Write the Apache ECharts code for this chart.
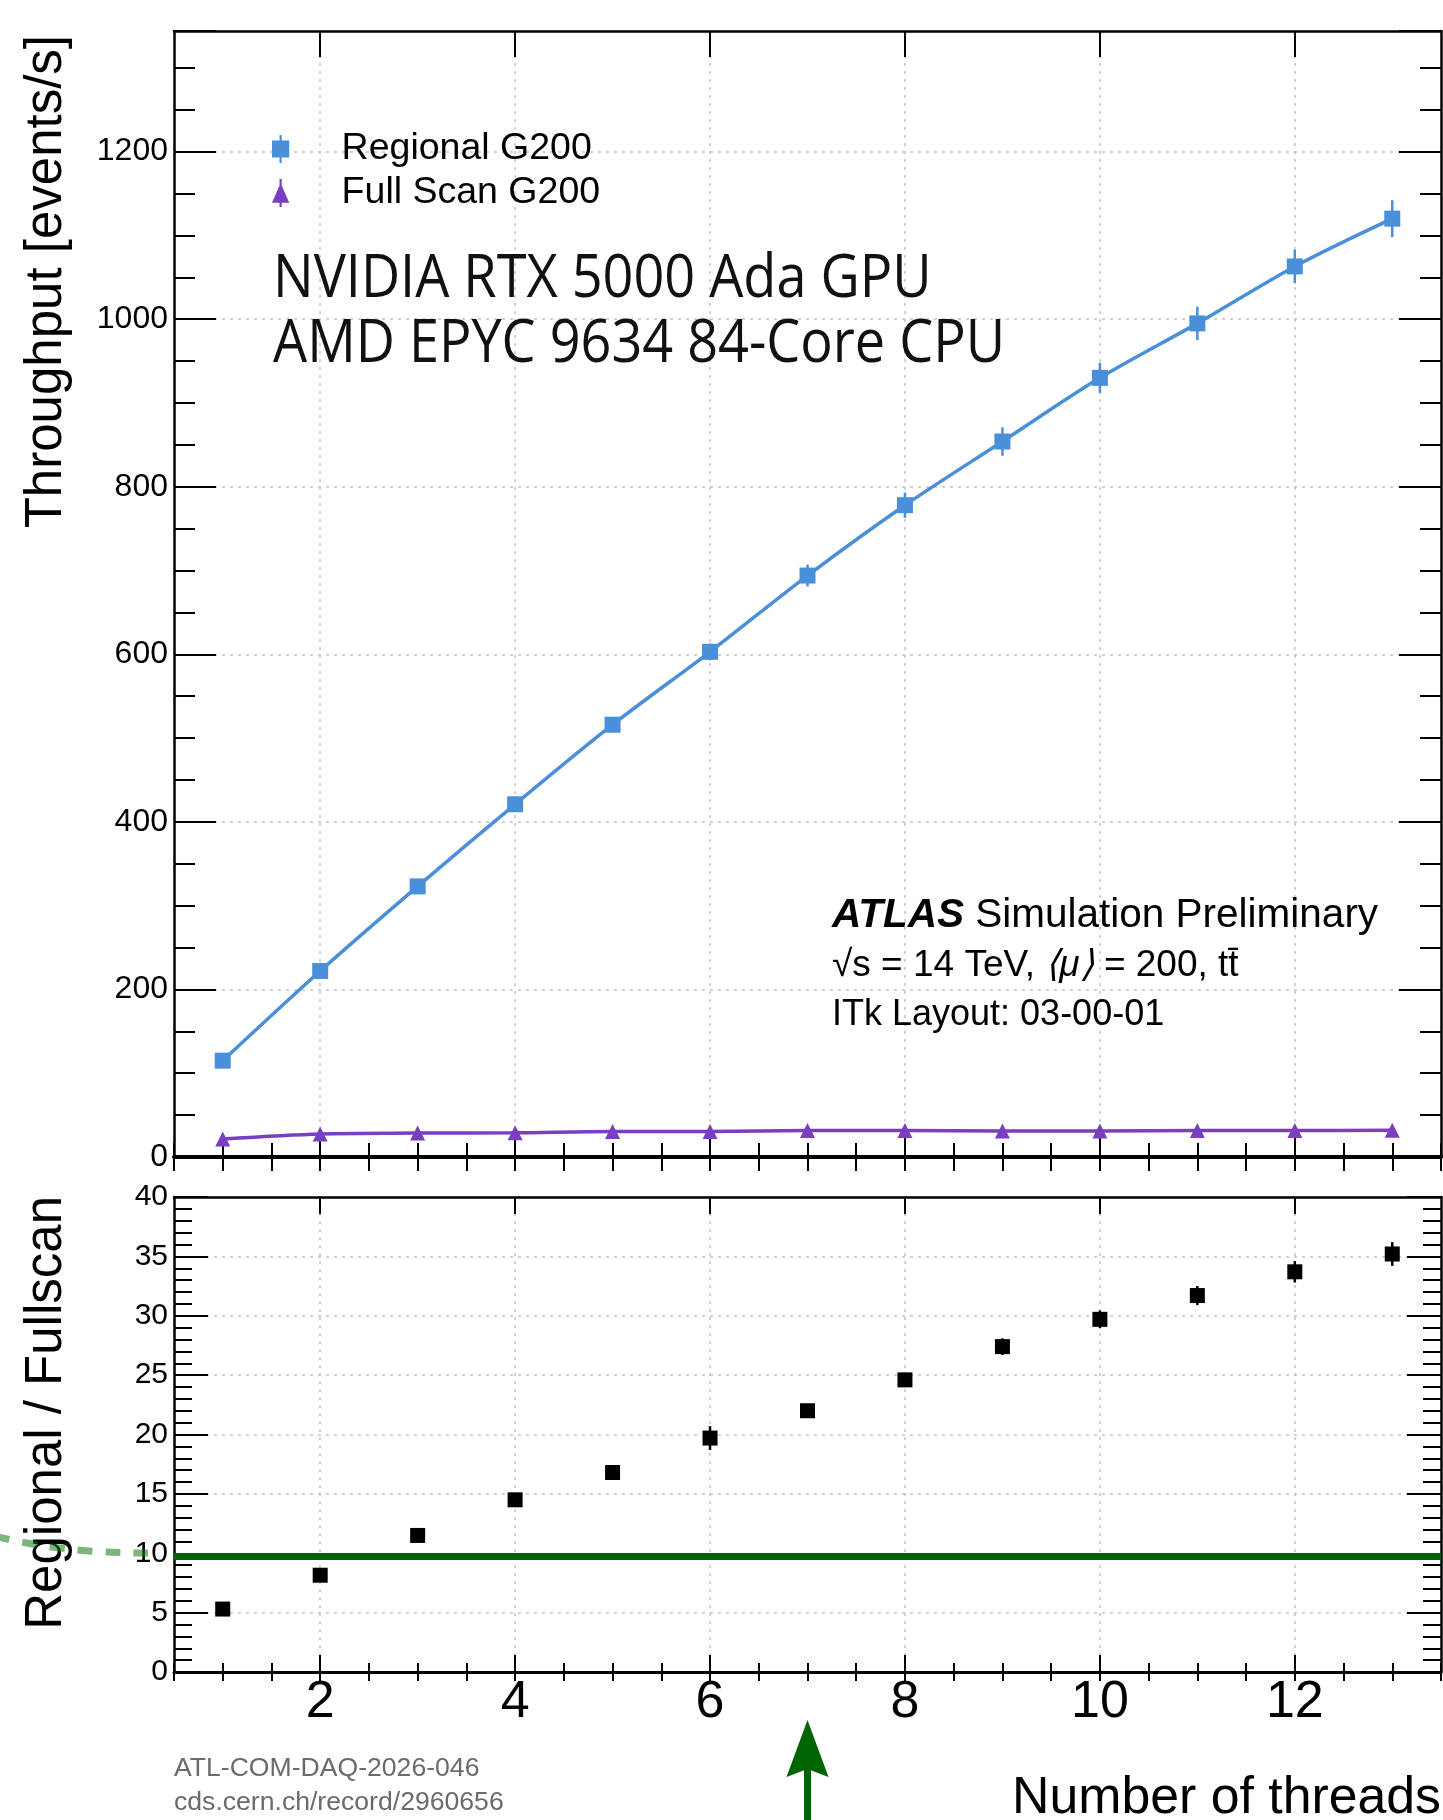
<!DOCTYPE html>
<html>
<head>
<meta charset="utf-8">
<title>Throughput vs threads</title>
<script src="https://cdn.jsdelivr.net/npm/echarts@6.0.0/dist/echarts.min.js"></script>
<style>
  html, body { margin: 0; padding: 0; background: #fff; }
  #chart { width: 1443px; height: 1820px; }
</style>
</head>
<body>
<div id="chart"></div>
<script>
// data
var threads = [1, 2, 3, 4, 5, 6, 7, 8, 9, 10, 11, 12, 13];
var regional = [115, 222, 323, 421, 516, 603, 694, 778, 854, 930, 995, 1063, 1120];
var regionalErr = [3, 5, 6, 8, 9, 10, 13, 15, 17, 18, 20, 20, 22];
var fullScan = [21.5, 27.5, 28.5, 29, 30.5, 30.5, 31.5, 31.5, 31, 31, 31.5, 31.5, 32];
var fullScanErr = [2, 1.5, 1.5, 1.5, 1.5, 1.5, 1.5, 1.5, 1.5, 1.5, 1.5, 1.5, 1.5];
var ratio = [5.3, 8.15, 11.5, 14.5, 16.8, 19.7, 22.0, 24.6, 27.4, 29.7, 31.7, 33.7, 35.2];
var ratioErr = [0.2, 0.3, 0.35, 0.4, 0.5, 1.0, 0.55, 0.6, 0.7, 0.75, 0.8, 0.9, 1.0];
var xMajor = [2, 4, 6, 8, 10, 12];
var refLine = 9.75;   // green reference line in ratio panel
var markThread = 7;   // arrow position

var FONT = '"Liberation Sans", Arial, Helvetica, sans-serif';
var BLUE = '#4a8fd9';
var PURPLE = '#7a3fc0';
var GREEN = '#006400';
var GRIDLINE = {show: true, lineStyle: {color: '#c4c4c4', width: 1.5, type: [3, 5]}};

var myChart = echarts.init(document.getElementById('chart'), null, {renderer: 'canvas'});

function xAxes(grid, major, minor, withLabels) {
  var base = {gridIndex: grid, type: 'value', min: 0.5, max: 13.5};
  return [
    Object.assign({}, base, {
      position: 'bottom',
      axisLine: {show: true, onZero: false, lineStyle: {color: '#000', width: grid === 0 ? 4 : 3}},
      axisTick: {show: true, inside: true, length: major, customValues: xMajor, lineStyle: {color: '#000', width: 2}},
      axisLabel: withLabels
        ? {show: true, customValues: xMajor, fontSize: 52, fontFamily: FONT, color: '#000', margin: 5}
        : {show: false},
      splitLine: GRIDLINE
    }),
    Object.assign({}, base, {
      position: 'bottom', interval: 0.5,
      axisLine: {show: false},
      axisTick: {show: true, inside: true, length: minor, lineStyle: {color: '#000', width: 2}},
      axisLabel: {show: false}, splitLine: {show: false}
    }),
    Object.assign({}, base, {
      position: 'top',
      axisLine: {show: true, onZero: false, lineStyle: {color: '#000', width: 2.5}},
      axisTick: {show: true, inside: true, length: major, customValues: xMajor, lineStyle: {color: '#000', width: 2}},
      axisLabel: {show: false}, splitLine: {show: false}
    }),
    Object.assign({}, base, {
      position: 'top', interval: 0.5,
      axisLine: {show: false},
      axisTick: {show: true, inside: true, length: minor, lineStyle: {color: '#000', width: 2}},
      axisLabel: {show: false}, splitLine: {show: false}
    })
  ];
}

function yAxes(grid, max, step, minorSplit, major, minor, labelSize) {
  var tick = {color: '#000', width: 2};
  var left = {
    gridIndex: grid, type: 'value', position: 'left', min: 0, max: max, interval: step,
    axisLine: {show: true, onZero: false, lineStyle: {color: '#000', width: 2.5}},
    axisTick: {show: true, inside: true, length: major, lineStyle: tick},
    minorTick: {show: true, splitNumber: minorSplit, length: minor, lineStyle: tick},
    axisLabel: {
      show: true, fontSize: labelSize, fontFamily: FONT, color: '#000', margin: 6,
      showMinLabel: true, showMaxLabel: true,
      formatter: function (v) { return v % step === 0 ? String(v) : ''; }
    },
    splitLine: GRIDLINE
  };
  var right = Object.assign({}, left, {
    position: 'right', axisLabel: {show: false}, splitLine: {show: false}
  });
  return [left, right];
}

function errorBars(xi, yi, vals, errs, color, width) {
  return {
    type: 'custom', xAxisIndex: xi, yAxisIndex: yi, silent: true, z: 2,
    encode: {x: 0, y: [1, 2]},
    data: threads.map(function (t, i) { return [t, vals[i] - errs[i], vals[i] + errs[i]]; }),
    renderItem: function (params, api) {
      var lo = api.coord([api.value(0), api.value(1)]);
      var hi = api.coord([api.value(0), api.value(2)]);
      return {
        type: 'line',
        shape: {x1: lo[0], y1: lo[1], x2: hi[0], y2: hi[1]},
        style: {stroke: color, lineWidth: width}
      };
    }
  };
}

var options = {
  animation: false,
  backgroundColor: '#fff',
  grid: [
    {left: 174, top: 31, width: 1267, height: 1126, outerBoundsMode: 'none', containLabel: false},
    {left: 174, top: 1197, width: 1267, height: 475, outerBoundsMode: 'none', containLabel: false}
  ],
  xAxis: xAxes(0, 26, 14, false).concat(xAxes(1, 17, 9, true)),
  yAxis: yAxes(0, 1344, 200, 4, 42, 21, 32).concat(yAxes(1, 40, 5, 5, 34, 18, 30)),
  legend: {
    orient: 'vertical', left: 272, top: 127, padding: 0, itemGap: 0,
    itemWidth: 112, itemHeight: 28, selectedMode: false,
    textStyle: {fontSize: 37.5, fontFamily: FONT, color: '#000', lineHeight: 44},
    data: [
      {name: 'Regional G200', icon: 'path://M7,0H9V5H16V21H9V26H7V21H0V5H7Z'},
      {name: 'Full Scan G200', icon: 'path://M7,0H9V6L16,22H9V26H7V22H0L7,6Z'}
    ]
  },
  series: [
    errorBars(0, 0, regional, regionalErr, BLUE, 2.5),
    {
      name: 'Regional G200', type: 'line', xAxisIndex: 0, yAxisIndex: 0, z: 3,
      smooth: 0.3, symbol: 'rect', symbolSize: 16, color: BLUE,
      lineStyle: {color: BLUE, width: 3.5}, itemStyle: {color: BLUE, opacity: 1},
      data: threads.map(function (t, i) { return [t, regional[i]]; })
    },
    errorBars(0, 0, fullScan, fullScanErr, PURPLE, 2.5),
    {
      name: 'Full Scan G200', type: 'line', xAxisIndex: 0, yAxisIndex: 0, z: 3,
      smooth: 0.3, symbol: 'triangle', symbolSize: 15, color: PURPLE,
      lineStyle: {color: PURPLE, width: 3.5}, itemStyle: {color: PURPLE, opacity: 1},
      data: threads.map(function (t, i) { return [t, fullScan[i]]; })
    },
    errorBars(4, 2, ratio, ratioErr, '#000', 2.5),
    {
      name: 'ratio', type: 'scatter', xAxisIndex: 4, yAxisIndex: 2, z: 3,
      symbol: 'rect', symbolSize: 15, itemStyle: {color: '#000', opacity: 1},
      data: threads.map(function (t, i) { return [t, ratio[i]]; }),
      markLine: {
        silent: true, symbol: ['none', 'none'], label: {show: false},
        lineStyle: {color: GREEN, width: 7, type: 'solid', opacity: 1},
        data: [{yAxis: refLine}]
      }
    }
  ]
};
myChart.setOption(options);

// annotations
var arrowX = myChart.convertToPixel({xAxisIndex: 4}, markThread);
var graphics = [
  {type: 'text', x: 47, y: 35, rotation: Math.PI / 2,
   style: {text: 'Throughput [events/s]', fontSize: 51, fontFamily: FONT, fill: '#000',
           align: 'right', verticalAlign: 'middle', textAlign: 'right', textVerticalAlign: 'middle'}},
  {type: 'text', x: 47, y: 1196, rotation: Math.PI / 2,
   style: {text: 'Regional / Fullscan', fontSize: 51, fontFamily: FONT, fill: '#000',
           align: 'right', verticalAlign: 'middle', textAlign: 'right', textVerticalAlign: 'middle'}},
  {type: 'text', x: 1441, y: 1799,
   style: {text: 'Number of threads', fontSize: 51.8, fontFamily: FONT, fill: '#000',
           align: 'right', verticalAlign: 'middle', textAlign: 'right', textVerticalAlign: 'middle'}},
  {type: 'text', x: 273, y: 280, scaleX: 0.9,
   style: {text: 'NVIDIA RTX 5000 Ada GPU', fontSize: 60, fontFamily: '"Open Sans", "Noto Sans", sans-serif',
           fill: '#111', align: 'left', verticalAlign: 'middle', textAlign: 'left', textVerticalAlign: 'middle'}},
  {type: 'text', x: 273, y: 345, scaleX: 0.9,
   style: {text: 'AMD EPYC 9634 84-Core CPU', fontSize: 60, fontFamily: '"Open Sans", "Noto Sans", sans-serif',
           fill: '#111', align: 'left', verticalAlign: 'middle', textAlign: 'left', textVerticalAlign: 'middle'}},
  {type: 'text', x: 832, y: 916,
   style: {text: '{b|ATLAS} Simulation Preliminary', fontSize: 40.5, fontFamily: FONT, fill: '#000',
           align: 'left', verticalAlign: 'middle', textAlign: 'left', textVerticalAlign: 'middle',
           rich: {b: {fontSize: 40.5, fontFamily: FONT, fontWeight: 'bold', fontStyle: 'italic', fill: '#000'}}}},
  {type: 'text', x: 832, y: 966,
   style: {text: '\u221As = 14 TeV, {i|\u27E8\u03BC\u27E9} = 200, tt\u0304', fontSize: 37, fontFamily: FONT, fill: '#000',
           align: 'left', verticalAlign: 'middle', textAlign: 'left', textVerticalAlign: 'middle',
           rich: {i: {fontSize: 37, fontFamily: FONT, fontStyle: 'italic', fill: '#000'}}}},
  {type: 'text', x: 832, y: 1015,
   style: {text: 'ITk Layout: 03-00-01', fontSize: 36, fontFamily: FONT, fill: '#000',
           align: 'left', verticalAlign: 'middle', textAlign: 'left', textVerticalAlign: 'middle'}},
  {type: 'text', x: 174, y: 1769,
   style: {text: 'ATL-COM-DAQ-2026-046', fontSize: 26.6, fontFamily: FONT, fill: '#6b6b6b',
           align: 'left', verticalAlign: 'middle', textAlign: 'left', textVerticalAlign: 'middle'}},
  {type: 'text', x: 174, y: 1803,
   style: {text: 'cds.cern.ch/record/2960656', fontSize: 26.6, fontFamily: FONT, fill: '#6b6b6b',
           align: 'left', verticalAlign: 'middle', textAlign: 'left', textVerticalAlign: 'middle'}},
  // dashed pointer coming in from the left
  {type: 'bezierCurve', z: 100,
   shape: {x1: -5, y1: 1536, cpx1: 60, cpy1: 1553, x2: 148, y2: 1553},
   style: {stroke: 'rgba(20,120,20,0.55)', lineWidth: 7, lineDash: [15, 13], fill: null}},
  // arrow under the x axis
  {type: 'rect', z: 100, shape: {x: arrowX - 3.5, y: 1765, width: 7, height: 60}, style: {fill: GREEN}},
  {type: 'polygon', z: 100,
   shape: {points: [[arrowX, 1720], [arrowX + 21, 1777], [arrowX, 1769], [arrowX - 21, 1777]]},
   style: {fill: GREEN}}
];
myChart.setOption({graphic: graphics});
</script>
</body>
</html>
